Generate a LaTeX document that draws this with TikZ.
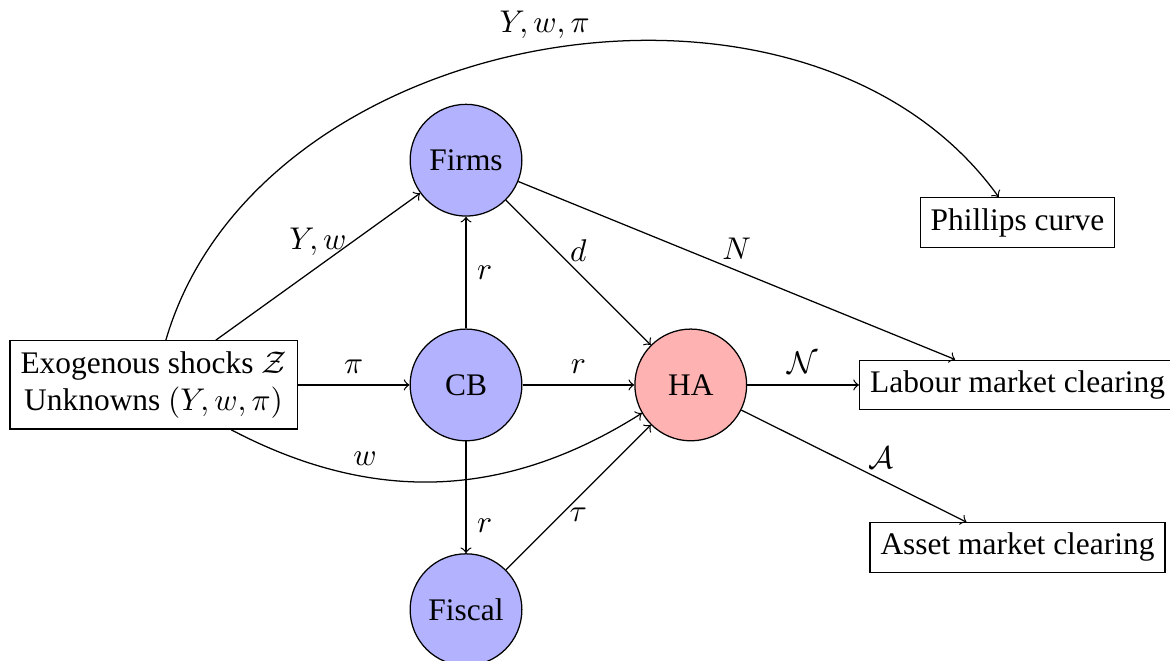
\documentclass[tikz,border=0pt]{standalone}
\usepackage{amsmath,amssymb}
\usepackage{fontspec}
\setmainfont{Liberation Serif}
\usetikzlibrary{positioning}

\begin{document}
\begin{tikzpicture}[
    node distance=1.25cm,
    blocknode/.style={draw, circle, fill=blue!30, minimum size=1.25cm},
    hanode/.style={draw, circle, fill=red!30, minimum size=1.25cm},
    boxnode/.style={draw, rectangle, align=center}
  ]
  \useasboundingbox (-5.213,-3.087) rectangle (7.875,4.306);

  \node (cb) [blocknode] {CB};
  \node (firms) [blocknode, above=of cb] {Firms};
  \node (fiscal) [blocknode, below=of cb] {Fiscal};
  \node (ha) [hanode, right=of cb] {HA};
  \node (exo) [boxnode, left=of cb] {Exogenous shocks $\mathcal{Z}$\\Unknowns $(Y, w, \pi)$};

  \node (labour) [boxnode, right=of ha] {Labour market clearing};
  \node (phillips) [boxnode, above=of labour] {Phillips curve};
  \node (asset) [boxnode, below=of labour] {Asset market clearing};

  \draw[->] (exo) -- node[above] {$Y, w$} (firms);
  \draw[->] (exo) -- node[above] {$\pi$} (cb);
  \draw[->] (exo) to[bend right=30] node[pos=0.32, above] {$w$} (ha);
  \draw[->] (exo) to[bend left=64] node[above] {$Y, w, \pi$} (phillips);
  \draw[->] (cb) -- node[right] {$r$} (firms);
  \draw[->] (cb) -- node[above] {$r$} (ha);
  \draw[->] (cb) -- node[right, near end] {$r$} (fiscal);
  \draw[->] (firms) -- node[above] {$d$} (ha);
  \draw[->] (firms) -- node[above] {$N$} (labour);
  \draw[->] (fiscal) -- node[below] {$\tau$} (ha);
  \draw[->] (ha) -- node[above] {$\mathcal{N}$} (labour);
  \draw[->] (ha) -- node[pos=0.62, above] {$\mathcal{A}$} (asset);

\end{tikzpicture}
\end{document}
